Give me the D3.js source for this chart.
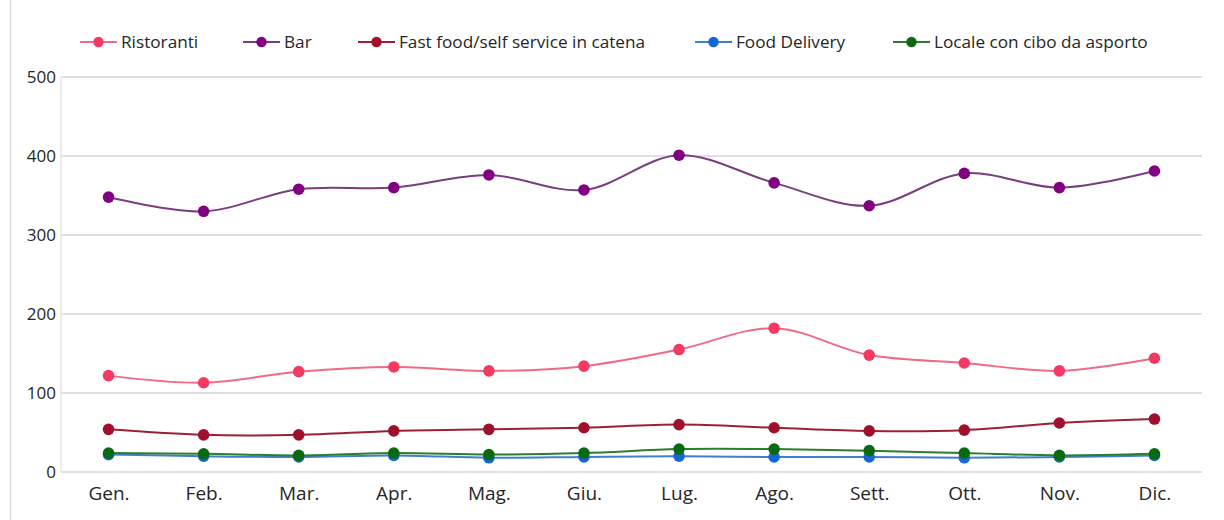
<!DOCTYPE html>
<html><head><meta charset="utf-8">
<script src="https://cdn.jsdelivr.net/npm/d3@7"></script>
<style>
html,body{margin:0;padding:0;background:#fff;}
svg text{font-family:"Open Sans","Liberation Sans",sans-serif;fill:#262626;}
</style></head>
<body>
<svg id="c" width="1224" height="520"></svg>
<script>
const months = ["Gen.","Feb.","Mar.","Apr.","Mag.","Giu.","Lug.","Ago.","Sett.","Ott.","Nov.","Dic."];
const yTicks = [0,100,200,300,400,500];
const seriesNames = ["Ristoranti","Bar","Fast food/self service in catena","Food Delivery","Locale con cibo da asporto"];
const ristoranti = [122,113,127,133,128,134,155,182,148,138,128,144];
const bar = [348,330,358,360,376,357,401,366,337,378,360,381];
const fastFood = [54,47,47,52,54,56,60,56,52,53,62,67];
const foodDelivery = [22,20,19,21,18,19,20,19,19,18,19,21];
const localeAsporto = [24,23,21,24,22,24,29,29,27,24,21,23];
const seriesValues = [ristoranti, bar, fastFood, foodDelivery, localeAsporto];
const lineColors = ["#ee6a86","#7b3d80","#9c2035","#3f7fd0","#2e7d2e"];
const dotColors = ["#f23a62","#820082","#a0102c","#1467d6","#0a6a12"];

const svg = d3.select("#c");
const pLeft = 61, pRight = 1202, pTop = 77, pBottom = 472;

svg.append("line").attr("x1",10.5).attr("x2",10.5).attr("y1",0).attr("y2",520).attr("stroke","#d9d9d9").attr("stroke-width",1.5);

const x = d3.scalePoint().domain(months).range([pLeft, pRight]).padding(0.5);
const y = d3.scaleLinear().domain([0,500]).range([pBottom, pTop]);

svg.append("g").selectAll("line").data(yTicks).join("line")
  .attr("x1", pLeft).attr("x2", pRight)
  .attr("y1", d=>y(d)).attr("y2", d=>y(d))
  .attr("stroke","#e0e0e0").attr("stroke-width",2);
svg.append("line").attr("x1",pLeft).attr("x2",pLeft).attr("y1",pTop).attr("y2",pBottom).attr("stroke","#e6e6e6").attr("stroke-width",1.5);

const yAxis = d3.axisLeft(y).tickValues(yTicks).tickSize(0).tickPadding(0);
const gy = svg.append("g").attr("transform","translate(56,0)").call(yAxis);
gy.select(".domain").remove();
gy.selectAll("text").attr("font-size",17).attr("font-family","'Open Sans',sans-serif").attr("fill","#262626");

const xAxis = d3.axisBottom(x).tickSize(0).tickPadding(0);
const gx = svg.append("g").attr("transform","translate(0,486)").call(xAxis);
gx.select(".domain").remove();
gx.selectAll("text").attr("font-size",19).attr("font-family","'Open Sans',sans-serif").attr("fill","#262626");

const line = d3.line().x((d,i)=>x(months[i])).y(d=>y(d)).curve(d3.curveCatmullRom.alpha(0.5));

[0,1,2,3,4].forEach(k=>{
  const g = svg.append("g");
  g.append("path").datum(seriesValues[k]).attr("d", line)
    .attr("fill","none").attr("stroke", lineColors[k]).attr("stroke-width",2);
  g.selectAll("circle").data(seriesValues[k]).join("circle")
    .attr("cx",(d,i)=>x(months[i])).attr("cy",d=>y(d)).attr("r",5.8)
    .attr("fill", dotColors[k]);
});

const legX = [80, 243, 358, 695, 893];
const lg = svg.append("g");
seriesNames.forEach((n,k)=>{
  const lx = legX[k];
  lg.append("line").attr("x1",lx).attr("x2",lx+37).attr("y1",42).attr("y2",42).attr("stroke",lineColors[k]).attr("stroke-width",2);
  lg.append("circle").attr("cx",lx+18.5).attr("cy",42).attr("r",5.2).attr("fill",dotColors[k]);
  lg.append("text").attr("x",lx+41).attr("y",42).attr("dy","0.35em").attr("font-size",17.2).text(n);
});
</script>
</body></html>
